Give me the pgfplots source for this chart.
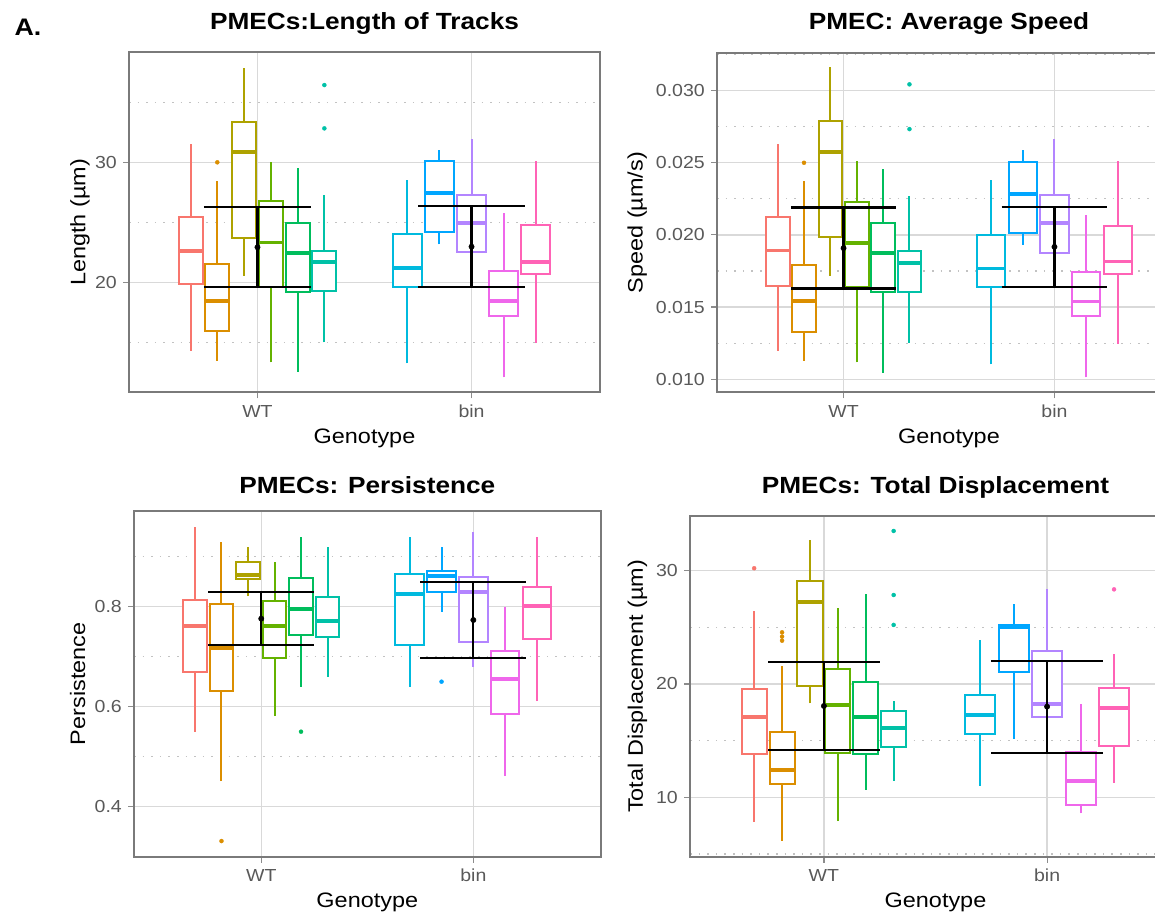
\documentclass[border=0pt]{standalone}
\usepackage{fontspec}
\setmainfont{Liberation Sans}[FakeStretch=1.12]
\usepackage{pgfplots}
\pgfplotsset{compat=1.18}

\definecolor{c1}{HTML}{F8766D}
\definecolor{c2}{HTML}{DB8E00}
\definecolor{c3}{HTML}{AEA200}
\definecolor{c4}{HTML}{64B200}
\definecolor{c5}{HTML}{00BD5C}
\definecolor{c6}{HTML}{00C1A7}
\definecolor{c7}{HTML}{00BADE}
\definecolor{c8}{HTML}{00A6FF}
\definecolor{c9}{HTML}{B385FF}
\definecolor{c10}{HTML}{EF67EB}
\definecolor{c11}{HTML}{FF63B6}

% box: color, box left, centre, box right, lower whisker, lower quartile, median, upper quartile, upper whisker
\newcommand{\bx}[9]{%
\addplot[color=#1, line width=2bp, forget plot] coordinates {(#3,#5) (#3,#6)};
\addplot[color=#1, line width=2bp, forget plot] coordinates {(#3,#8) (#3,#9)};
\addplot[color=#1, line width=2bp, fill=white, forget plot] coordinates {(#2,#6) (#4,#6) (#4,#8) (#2,#8)} --cycle;
\addplot[color=#1, line width=3.8bp, forget plot] coordinates {(#2,#7) (#4,#7)};
}

\pgfplotsset{
  ggpanel/.style={
    scale only axis,
    xmin=0.4, xmax=2.6,
    xtick={1,2}, xticklabels={WT,bin},
    xtick pos=lower, ytick pos=left,
    tick align=outside,
    major tick length=6bp,
    minor tick length=0pt,
    tick style={color=black!45, line width=1.2bp},
    axis line style={color=black!52, line width=1.8bp},
    xmajorgrids, ymajorgrids, yminorgrids,
    major grid style={color=black!15, line width=1.5bp},
    minor grid style={color=black!24, line width=1.2bp, dash pattern=on 1.6bp off 7bp},
    ticklabel style={font=\fontsize{17.5}{20}\selectfont, text=black!65},
    xticklabel style={anchor=base, yshift=-19bp},
    yticklabel style={anchor=east, inner sep=0pt, xshift=-6bp},
    label style={font=\fontsize{21}{24}\selectfont},
    every axis title/.style={font=\bfseries\fontsize{23.5}{26}\selectfont, at={(axis description cs:0.5,1)}, anchor=base},
    xlabel=Genotype,
    xlabel style={at={(axis description cs:0.5,0)}, anchor=base, yshift=-51bp},
  },
  eb/.style={black, line width=2.2bp, forget plot},
  mn/.style={black, only marks, mark=*, mark size=2.7bp, forget plot},
  ol/.style={only marks, mark=*, mark size=2bp, forget plot},
}

\begin{document}
\begin{tikzpicture}
\useasboundingbox (0bp,0bp) rectangle (1155bp,-915bp);
\node[anchor=base west, font=\bfseries\fontsize{24}{26}\selectfont] at (11bp,-35bp) {A.};

% ---------------- Panel 1 ----------------
\begin{axis}[ggpanel, at={(129bp,-392.3bp)}, anchor=south west, width=471bp, height=340bp,
  ymin=10.83, ymax=39.17, ytick={20,30}, yticklabels={20,30}, minor ytick={15,25,35},
  title={PMECs:Length of Tracks}, title style={yshift=23bp},
  ylabel={Length (µm)}, ylabel style={at={(axis description cs:-0.104,0.5)}, anchor=center}]
\bx{c1}{0.63125}{0.6875}{0.74375}{14.28}{19.83}{22.64}{25.47}{31.53}
\bx{c2}{0.75625}{0.8125}{0.86875}{13.44}{15.94}{18.44}{21.5}{28.47}
\bx{c3}{0.88125}{0.9375}{0.99375}{20.53}{23.72}{30.89}{33.39}{37.89}
\bx{c4}{1.00625}{1.0625}{1.11875}{13.33}{19.64}{23.31}{26.78}{30.06}
\bx{c5}{1.13125}{1.1875}{1.24375}{12.56}{19.22}{22.47}{24.97}{29.56}
\bx{c6}{1.25625}{1.3125}{1.36875}{15.0}{19.28}{21.67}{22.64}{27.28}
\bx{c7}{1.6325}{1.7}{1.7675}{13.25}{19.64}{21.17}{24.0}{28.53}
\bx{c8}{1.7825}{1.85}{1.9175}{23.17}{24.22}{27.42}{30.11}{31.03}
\bx{c9}{1.9325}{2.0}{2.0675}{20.5}{22.5}{24.92}{27.28}{31.92}
\bx{c10}{2.0825}{2.15}{2.2175}{12.08}{17.19}{18.44}{20.94}{25.75}
\bx{c11}{2.2325}{2.3}{2.3675}{14.97}{20.67}{21.67}{24.78}{30.11}
\addplot[ol, c2] coordinates {(0.8125,30.0)};
\addplot[ol, c6] coordinates {(1.3125,32.83) (1.3125,36.44)};
\addplot[eb] coordinates {(0.75,26.25) (1.25,26.25)};
\addplot[eb] coordinates {(0.75,19.58) (1.25,19.58)};
\addplot[eb] coordinates {(1,19.58) (1,26.25)};
\addplot[mn] coordinates {(1,22.92)};
\addplot[eb] coordinates {(1.75,26.33) (2.25,26.33)};
\addplot[eb] coordinates {(1.75,19.64) (2.25,19.64)};
\addplot[eb] coordinates {(2,19.64) (2,26.33)};
\addplot[mn] coordinates {(2,22.97)};
\end{axis}

% ---------------- Panel 2 (speed values in units of 0.001 um/s) ----------------
\begin{axis}[ggpanel, at={(717bp,-392.3bp)}, anchor=south west, width=464bp, height=339.6bp,
  ymin=9.1, ymax=32.61, ytick={10,15,20,25,30},
  yticklabels={0.010,0.015,0.020,0.025,0.030}, minor ytick={12.5,17.5,22.5,27.5,32.5},
  title={PMEC: Average Speed}, title style={yshift=23.4bp},
  ylabel={Speed (µm/s)}, ylabel style={at={(axis description cs:-0.172,0.5)}, anchor=center}]
\bx{c1}{0.63125}{0.6875}{0.74375}{11.96}{16.49}{18.91}{21.22}{26.28}
\bx{c2}{0.75625}{0.8125}{0.86875}{11.27}{13.30}{15.43}{17.92}{23.70}
\bx{c3}{0.88125}{0.9375}{0.99375}{17.16}{19.82}{25.73}{27.85}{31.59}
\bx{c4}{1.00625}{1.0625}{1.11875}{11.18}{16.37}{19.42}{22.29}{25.08}
\bx{c5}{1.13125}{1.1875}{1.24375}{10.46}{16.03}{18.73}{20.81}{24.57}
\bx{c6}{1.25625}{1.3125}{1.36875}{12.54}{16.07}{18.04}{18.85}{22.70}
\bx{c7}{1.6325}{1.7}{1.7675}{11.04}{16.37}{17.67}{19.98}{23.81}
\bx{c8}{1.7825}{1.85}{1.9175}{19.31}{20.12}{22.84}{25.01}{25.89}
\bx{c9}{1.9325}{2.0}{2.0675}{17.0}{18.73}{20.81}{22.73}{26.63}
\bx{c10}{2.0825}{2.15}{2.2175}{10.14}{14.39}{15.38}{17.44}{21.39}
\bx{c11}{2.2325}{2.3}{2.3675}{12.45}{17.28}{18.15}{20.62}{25.08}
\addplot[ol, c2] coordinates {(0.8125,24.99)};
\addplot[ol, c6] coordinates {(1.3125,27.32) (1.3125,30.42)};
\addplot[eb] coordinates {(0.75,21.89) (1.25,21.89)};
\addplot[eb] coordinates {(0.75,16.28) (1.25,16.28)};
\addplot[eb] coordinates {(1,16.28) (1,21.89)};
\addplot[mn] coordinates {(1,19.08)};
\addplot[eb] coordinates {(1.75,21.94) (2.25,21.94)};
\addplot[eb] coordinates {(1.75,16.37) (2.25,16.37)};
\addplot[eb] coordinates {(2,16.37) (2,21.94)};
\addplot[mn] coordinates {(2,19.17)};
\end{axis}

% ---------------- Panel 3 ----------------
\begin{axis}[ggpanel, at={(134bp,-856.7bp)}, anchor=south west, width=466.6bp, height=345.7bp,
  ymin=0.3, ymax=0.9913, ytick={0.4,0.6,0.8}, yticklabels={0.4,0.6,0.8}, minor ytick={0.5,0.7,0.9},
  title={PMECs: Persistence}, title style={yshift=17.7bp},
  ylabel={Persistence}, ylabel style={at={(axis description cs:-0.1207,0.5)}, anchor=center}]
\bx{c1}{0.63125}{0.6875}{0.74375}{0.55}{0.6687}{0.762}{0.8133}{0.96}
\bx{c2}{0.75625}{0.8125}{0.86875}{0.4513}{0.6313}{0.7167}{0.8053}{0.93}
\bx{c3}{0.88125}{0.9375}{0.99375}{0.8213}{0.8547}{0.8633}{0.89}{0.9187}
\bx{c4}{1.00625}{1.0625}{1.11875}{0.5813}{0.6967}{0.7613}{0.8113}{0.8887}
\bx{c5}{1.13125}{1.1875}{1.24375}{0.64}{0.7433}{0.7953}{0.858}{0.9387}
\bx{c6}{1.25625}{1.3125}{1.36875}{0.66}{0.74}{0.7713}{0.8187}{0.9187}
\bx{c7}{1.6325}{1.7}{1.7675}{0.64}{0.7233}{0.8253}{0.8653}{0.9387}
\bx{c8}{1.7825}{1.85}{1.9175}{0.79}{0.83}{0.8613}{0.8713}{0.9187}
\bx{c9}{1.9325}{2.0}{2.0675}{0.68}{0.73}{0.83}{0.8587}{0.95}
\bx{c10}{2.0825}{2.15}{2.2175}{0.4613}{0.5847}{0.6553}{0.712}{0.8}
\bx{c11}{2.2325}{2.3}{2.3675}{0.6113}{0.7353}{0.8013}{0.84}{0.9387}
\addplot[ol, c2] coordinates {(0.8125,0.3313)};
\addplot[ol, c5] coordinates {(1.1875,0.55)};
\addplot[ol, c8] coordinates {(1.85,0.65)};
\addplot[eb] coordinates {(0.75,0.8293) (1.25,0.8293)};
\addplot[eb] coordinates {(0.75,0.7227) (1.25,0.7227)};
\addplot[eb] coordinates {(1,0.7227) (1,0.8293)};
\addplot[mn] coordinates {(1,0.776)};
\addplot[eb] coordinates {(1.75,0.8487) (2.25,0.8487)};
\addplot[eb] coordinates {(1.75,0.698) (2.25,0.698)};
\addplot[eb] coordinates {(2,0.698) (2,0.8487)};
\addplot[mn] coordinates {(2,0.7733)};
\end{axis}

% ---------------- Panel 4 ----------------
\begin{axis}[ggpanel, at={(690bp,-856.7bp)}, anchor=south west, width=491bp, height=340.7bp,
  ymin=4.76, ymax=34.82, ytick={10,20,30}, yticklabels={10,20,30}, minor ytick={5,15,25},
  title={PMECs: Total Displacement}, title style={yshift=22.7bp},
  ylabel={Total Displacement (µm)}, ylabel style={at={(axis description cs:-0.107,0.5)}, anchor=center}]
\bx{c1}{0.63125}{0.6875}{0.74375}{7.85}{13.82}{17.12}{19.59}{26.44}
\bx{c2}{0.75625}{0.8125}{0.86875}{6.15}{11.18}{12.41}{15.74}{21.59}
\bx{c3}{0.88125}{0.9375}{0.99375}{18.29}{19.82}{27.26}{29.12}{32.71}
\bx{c4}{1.00625}{1.0625}{1.11875}{7.91}{13.88}{18.15}{21.29}{26.68}
\bx{c5}{1.13125}{1.1875}{1.24375}{10.65}{13.82}{17.12}{20.15}{27.91}
\bx{c6}{1.25625}{1.3125}{1.36875}{11.47}{14.47}{16.09}{17.65}{18.53}
\bx{c7}{1.6325}{1.7}{1.7675}{11.0}{15.59}{17.26}{19.0}{23.88}
\bx{c8}{1.7825}{1.85}{1.9175}{15.15}{21.03}{25.0}{25.21}{27.06}
\bx{c9}{1.9325}{2.0}{2.0675}{15.5}{17.06}{18.24}{22.94}{28.35}
\bx{c10}{2.0825}{2.15}{2.2175}{8.59}{9.32}{11.44}{14.03}{18.21}
\bx{c11}{2.2325}{2.3}{2.3675}{11.29}{14.56}{17.85}{19.62}{22.62}
\addplot[ol, c1] coordinates {(0.6875,30.21)};
\addplot[ol, c2] coordinates {(0.8125,23.82) (0.8125,24.18) (0.8125,24.56)};
\addplot[ol, c6] coordinates {(1.3125,25.21) (1.3125,27.85) (1.3125,33.5)};
\addplot[ol, c11] coordinates {(2.3,28.35)};
\addplot[eb] coordinates {(0.75,21.91) (1.25,21.91)};
\addplot[eb] coordinates {(0.75,14.18) (1.25,14.18)};
\addplot[eb] coordinates {(1,14.18) (1,21.91)};
\addplot[mn] coordinates {(1,18.06)};
\addplot[eb] coordinates {(1.75,22.03) (2.25,22.03)};
\addplot[eb] coordinates {(1.75,13.94) (2.25,13.94)};
\addplot[eb] coordinates {(2,13.94) (2,22.03)};
\addplot[mn] coordinates {(2,18.0)};
\end{axis}
\end{tikzpicture}
\end{document}
